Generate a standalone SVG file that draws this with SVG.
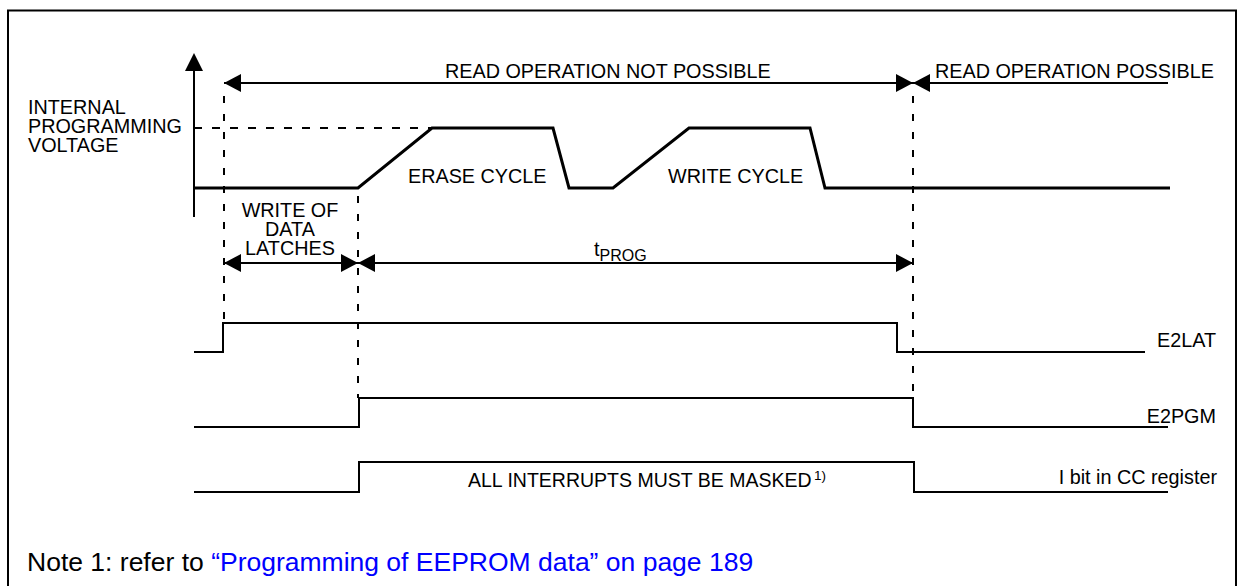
<svg xmlns="http://www.w3.org/2000/svg" width="1239" height="586" viewBox="0 0 1239 586">
<style>
text{font-family:"Liberation Sans",Arial,Helvetica,sans-serif;font-size:19.8px;fill:#000}
.ln{fill:none;stroke:#000;stroke-width:2}
.volt{fill:none;stroke:#000;stroke-width:3;stroke-linejoin:miter}
.dash{fill:none;stroke:#000;stroke-width:2;stroke-dasharray:7 11}
.arr{fill:none;stroke:#000;stroke-width:2.2;marker-start:url(#ah);marker-end:url(#ah)}
.arr1{fill:none;stroke:#000;stroke-width:2.2;marker-end:url(#ah)}
.end{text-anchor:end}
.mid{text-anchor:middle}
.blue{fill:#0000ff}
</style>
<defs>
<marker id="ah" markerUnits="userSpaceOnUse" markerWidth="17" markerHeight="18" refX="17" refY="9" orient="auto-start-reverse">
<path d="M0,0 L17,9 L0,18 Z" fill="#000"/>
</marker>
</defs>
<rect id="frame" x="8" y="10.5" width="1228" height="600" fill="none" stroke="#000" stroke-width="2"/>
<g id="axis">
<line class="ln" x1="194" y1="217" x2="194" y2="68"/>
<polygon points="194,53 185,71 203,71" fill="#000"/>
<text x="28" y="114">INTERNAL</text>
<text x="28" y="133">PROGRAMMING</text>
<text x="28" y="152">VOLTAGE</text>
</g>
<g id="guides">
<line class="dash" x1="194" y1="128" x2="432" y2="128" style="stroke-dasharray:8 10"/>
<line class="dash" x1="224" y1="96" x2="224" y2="322"/>
<line class="dash" x1="358" y1="196" x2="358" y2="398"/>
<line class="dash" x1="913" y1="96" x2="913" y2="398"/>
</g>
<g id="voltage">
<polyline class="volt" points="194,188 358,188 432,128 553,128 569,188 613,188 689,128 810,128 825,188 1170,188"/>
<text x="408" y="183">ERASE CYCLE</text>
<text x="668" y="183">WRITE CYCLE</text>
</g>
<g id="connectors">
<line class="arr" x1="224" y1="83" x2="913" y2="83"/>
<line class="arr" x1="1168" y1="83" x2="913" y2="83" style="marker-start:none"/>
<line class="arr" x1="224" y1="263" x2="358" y2="263"/>
<line class="arr" x1="358" y1="263" x2="913" y2="263"/>
</g>
<g id="read-labels">
<text x="445" y="78">READ OPERATION NOT POSSIBLE</text>
<text x="935" y="78">READ OPERATION POSSIBLE</text>
</g>
<g id="latch-label">
<text class="mid" x="290" y="217">WRITE OF</text>
<text class="mid" x="290" y="236">DATA</text>
<text class="mid" x="290" y="255">LATCHES</text>
</g>
<g id="tprog">
<text x="594" y="256">t<tspan font-size="16" dy="5">PROG</tspan></text>
</g>
<g id="e2lat">
<polyline class="ln" points="194,352 223,352 223,323 897,323 897,352 1145,352"/>
<text class="end" x="1216" y="347">E2LAT</text>
</g>
<g id="e2pgm">
<polyline class="ln" points="194,427 359,427 359,398 913,398 913,427 1168,427"/>
<text class="end" x="1216" y="423">E2PGM</text>
</g>
<g id="ibit">
<polyline class="ln" points="194,492 359,492 359,462 914,462 914,492 1168,492"/>
<text class="end" x="1217" y="484">I bit in CC register</text>
<text x="468" y="487" style="font-size:19.5px">ALL INTERRUPTS MUST BE MASKED</text>
<text x="814" y="480" style="font-size:13.5px">1)</text>
</g>
<g id="note">
<text x="27" y="571" style="font-size:26.5px">Note 1: refer to <tspan class="blue">“Programming of EEPROM data” on page 189</tspan></text>
</g>
</svg>
